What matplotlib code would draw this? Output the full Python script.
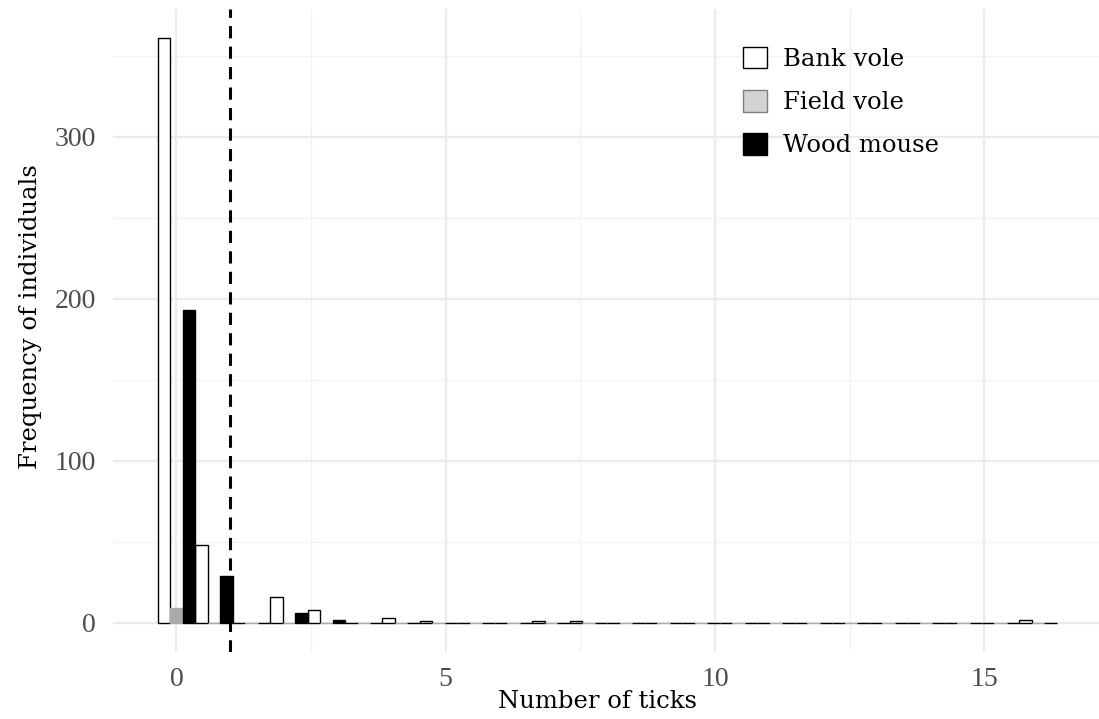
import numpy as np
import matplotlib
matplotlib.use('Agg')
import matplotlib.pyplot as plt
from matplotlib.patches import Patch

plt.rcParams['font.family'] = ['Liberation Serif', 'DejaVu Serif']

# tick counts per individual
tick_values = [0, 1, 2, 3, 4, 5, 7, 8, 16]
bank_counts = [361, 48, 16, 8, 3, 1, 1, 1, 2]
field_counts = [9, 0, 0, 0, 0, 0, 0, 0, 0]
wood_counts = [193, 29, 6, 2, 0, 0, 0, 0, 0]

species = ['Bank vole', 'Field vole', 'Wood mouse']
fills = ['white', '#aaaaaa', 'black']
edges = ['black', '#aaaaaa', 'black']

# ggplot-style bins: 24 bins, first centred on the minimum
n_bins = 24
bw = (max(tick_values) - min(tick_values)) / (n_bins - 1)
centers = np.arange(n_bins) * bw
idx = np.ceil(np.array(tick_values) / bw - 0.5 - 1e-9).astype(int)


def binned(counts):
    out = np.zeros(n_bins)
    np.add.at(out, idx, counts)
    return out


fig = plt.figure(figsize=(10.99, 7.19), dpi=100)
ax = fig.add_axes([112.7 / 1099, 67 / 719, 1006.3 / 1099, 643.4 / 719])

for i, counts in enumerate([bank_counts, field_counts, wood_counts]):
    ax.bar(centers - bw / 2 + i * bw / 3, binned(counts), width=bw / 3,
           align='edge', color=fills[i], edgecolor=edges[i], linewidth=1.0,
           zorder=3)

ax.axvline(1, color='black', linestyle=(0, (4, 2.7)), linewidth=2.2, zorder=4)

ax.set_xlim(-1.183, 17.183)
ax.set_ylim(-18.05, 379.05)
ax.set_xticks([0, 5, 10, 15])
ax.set_xticks([2.5, 7.5, 12.5, 17.5], minor=True)
ax.set_yticks([0, 100, 200, 300])
ax.set_yticks([50, 150, 250, 350], minor=True)
ax.grid(which='major', color='#ebebeb', linewidth=1.6, zorder=0)
ax.grid(which='minor', color='#f2f2f2', linewidth=0.9, zorder=0)
ax.set_axisbelow(True)
for s in ax.spines.values():
    s.set_visible(False)
ax.tick_params(which='both', length=0)
ax.tick_params(axis='x', pad=11, labelsize=20, labelcolor='#4d4d4d')
ax.tick_params(axis='y', pad=12, labelsize=20, labelcolor='#4d4d4d')

title_font = {'family': 'DejaVu Serif', 'size': 17.5}
ax.set_xlabel('Number of ticks', fontdict=title_font)
ax.xaxis.set_label_coords((597 - 112.7) / 1006.3, -0.059)
ax.set_ylabel('Frequency of individuals', fontdict=title_font)
ax.yaxis.set_label_coords(-0.0703, (652 - 317) / 643.4)

handles = [Patch(facecolor='white', edgecolor='black'),
           Patch(facecolor='#d3d3d3', edgecolor='#7f7f7f'),
           Patch(facecolor='black', edgecolor='black')]
ax.legend(handles, species, loc='upper left',
          bbox_to_anchor=(733 / 1099, 1 - 37 / 719),
          bbox_transform=fig.transFigure, frameon=False,
          prop=title_font,
          handlelength=1.0, handleheight=1.0, handletextpad=0.65,
          labelspacing=0.78, borderaxespad=0)

fig.savefig('out.png', dpi=100)
